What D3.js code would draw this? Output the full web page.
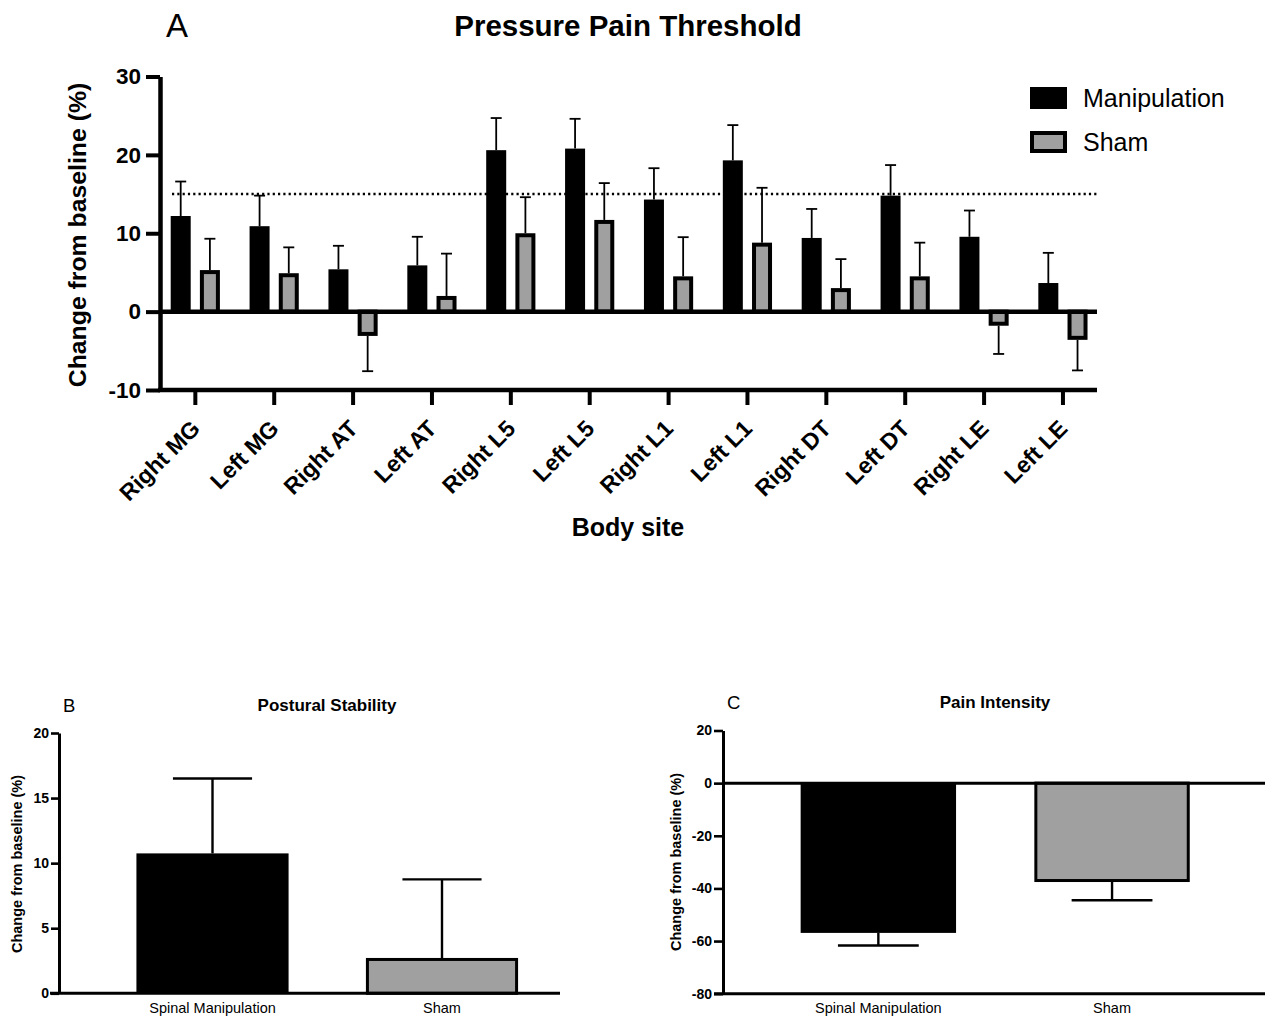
<!DOCTYPE html>
<html>
<head>
<meta charset="utf-8">
<script src="https://cdn.jsdelivr.net/npm/d3@7"></script>
<style>
body{margin:0;background:#fff}
svg{display:block;font-family:"Liberation Sans",Arial,sans-serif}
</style>
</head>
<body>
<div id="chart"></div>
<script>
// panel A - pressure pain threshold
var sites = ['Right MG','Left MG','Right AT','Left AT','Right L5','Left L5','Right L1','Left L1','Right DT','Left DT','Right LE','Left LE']
var groups = ['Manipulation','Sham']
var manipMean = [12.2, 10.9, 5.4, 5.9, 20.6, 20.8, 14.3, 19.3, 9.4, 14.8, 9.55, 3.65]
var manipErr  = [4.4, 3.9, 3.0, 3.65, 4.1, 3.8, 4.0, 4.5, 3.7, 3.9, 3.35, 3.85]
var shamMean  = [5.3, 4.9, -3.1, 2.0, 10.0, 11.7, 4.5, 8.8, 3.0, 4.5, -1.8, -3.6]
var shamErr   = [4.0, 3.3, 4.5, 5.4, 4.6, 4.7, 5.0, 7.0, 3.7, 4.3, 3.6, 3.9]
var thresholdValue = 15
var yTicksA = [-10,0,10,20,30]

// panels B and C
var arms = ['Spinal Manipulation','Sham']
var postMean = [10.75, 2.6]
var postErr  = [5.75, 6.15]
var yTicksB = [0,5,10,15,20]
var painMean = [-56.9, -37.0]
var painErr  = [4.8, 7.5]
var yTicksC = [-80,-60,-40,-20,0,20]

var fills = {'Manipulation':'#000','Sham':'#a0a0a0','Spinal Manipulation':'#000'}
var plainNum = function(d){ return String(d) }   // hyphen minus like the original

var svg = d3.select('#chart').append('svg')
    .attr('width',1265)
    .attr('height',1016)

/* ---------------- A ---------------- */
var xA = d3.scaleBand().domain(sites).range([155.9,1102.4])
var xSubA = d3.scaleBand().domain(groups).range([14.8,64]).paddingInner(0.315)
var yA = d3.scaleLinear().domain([-10,30]).range([390,76.5])

var rowsA = []
sites.forEach(function(s,i){
    rowsA.push({site:s,group:'Manipulation',v:manipMean[i],e:manipErr[i]})
    rowsA.push({site:s,group:'Sham',v:shamMean[i],e:shamErr[i]})
})

var gA = svg.append('g')

gA.append('line')
    .attr('x1',172).attr('x2',1097)
    .attr('y1',yA(thresholdValue)).attr('y2',yA(thresholdValue))
    .attr('stroke','#000')
    .attr('stroke-width',2.6)
    .attr('stroke-dasharray','2.2,3.1')

var bw = xSubA.bandwidth()
gA.selectAll('rect.barA').data(rowsA).enter().append('rect')
    .attr('class','barA')
    .attr('x',function(d){ var x = xA(d.site)+xSubA(d.group); return d.group=='Sham' ? x+2 : x })
    .attr('width',function(d){ return d.group=='Sham' ? bw-4 : bw })
    .attr('y',function(d){ var y = yA(Math.max(d.v,0)); return d.group=='Sham' && d.v>0 ? y+2 : y })
    .attr('height',function(d){ var h = Math.abs(yA(d.v)-yA(0)); return d.group=='Sham' ? Math.max(h-2,0) : h })
    .attr('fill',function(d){ return fills[d.group] })
    .attr('stroke','#000')
    .attr('stroke-width',function(d){ return d.group=='Sham' ? 4 : 0 })

var errA = gA.selectAll('g.errA').data(rowsA).enter().append('g').attr('class','errA')
errA.append('line')
    .attr('x1',function(d){ return xA(d.site)+xSubA(d.group)+bw/2 })
    .attr('x2',function(d){ return xA(d.site)+xSubA(d.group)+bw/2 })
    .attr('y1',function(d){ return yA(d.v) })
    .attr('y2',function(d){ return yA(d.v+(d.v<0?-d.e:d.e)) })
    .attr('stroke','#000').attr('stroke-width',1.8)
errA.append('line')
    .attr('x1',function(d){ return xA(d.site)+xSubA(d.group)+bw/2-5.5 })
    .attr('x2',function(d){ return xA(d.site)+xSubA(d.group)+bw/2+5.5 })
    .attr('y1',function(d){ return yA(d.v+(d.v<0?-d.e:d.e)) })
    .attr('y2',function(d){ return yA(d.v+(d.v<0?-d.e:d.e)) })
    .attr('stroke','#000').attr('stroke-width',1.8)

// zero line
gA.append('line')
    .attr('x1',160).attr('x2',1097)
    .attr('y1',yA(0)).attr('y2',yA(0))
    .attr('stroke','#000').attr('stroke-width',4.5)

// x axis
var xAxisA = gA.append('g')
    .attr('transform','translate(0,'+yA(-10)+')')
    .call(d3.axisBottom(xA).tickSize(15).tickSizeOuter(0))
xAxisA.select('.domain').remove()
xAxisA.selectAll('.tick line').attr('stroke-width',4)
xAxisA.selectAll('.tick text')
    .attr('x',0).attr('y',0).attr('dy',0)
    .attr('transform','translate(6,40) rotate(-45)')
    .attr('text-anchor','end')
    .attr('font-family','"Liberation Sans",Arial,sans-serif')
    .attr('font-size',23)
    .attr('font-weight','bold')
    .attr('fill','#000')
gA.append('line')
    .attr('x1',158).attr('x2',1097)
    .attr('y1',yA(-10)).attr('y2',yA(-10))
    .attr('stroke','#000').attr('stroke-width',4.5)

// y axis
var yAxisA = gA.append('g')
    .attr('transform','translate(160,0)')
    .call(d3.axisLeft(yA).tickValues(yTicksA).tickFormat(plainNum).tickSize(14).tickPadding(5).tickSizeOuter(0))
yAxisA.select('.domain').attr('stroke-width',4.5)
yAxisA.selectAll('.tick line').attr('stroke-width',4)
yAxisA.selectAll('.tick text')
    .attr('font-family','"Liberation Sans",Arial,sans-serif')
    .attr('font-size',22.5)
    .attr('font-weight','bold')
    .attr('fill','#000')

gA.append('text')
    .attr('transform','translate(86,235) rotate(-90)')
    .attr('text-anchor','middle')
    .attr('font-size',24.8).attr('font-weight','bold')
    .text('Change from baseline (%)')

gA.append('text')
    .attr('x',628).attr('y',36)
    .attr('text-anchor','middle')
    .attr('font-size',29.5).attr('font-weight','bold')
    .text('Pressure Pain Threshold')

gA.append('text')
    .attr('x',166).attr('y',37)
    .attr('font-size',33)
    .text('A')

gA.append('text')
    .attr('x',628).attr('y',536)
    .attr('text-anchor','middle')
    .attr('font-size',25).attr('font-weight','bold')
    .text('Body site')

// legend
var legend = gA.selectAll('g.leg').data(groups).enter().append('g')
    .attr('class','leg')
    .attr('transform',function(d,i){ return 'translate(1030,'+(87+i*44)+')' })
legend.append('rect')
    .attr('x',function(d){ return d=='Sham' ? 2 : 0 })
    .attr('y',function(d){ return d=='Sham' ? 2 : 0 })
    .attr('width',function(d){ return d=='Sham' ? 33 : 37 })
    .attr('height',function(d){ return d=='Sham' ? 18 : 22 })
    .attr('fill',function(d){ return fills[d] })
    .attr('stroke','#000')
    .attr('stroke-width',function(d){ return d=='Sham' ? 4 : 0 })
legend.append('text')
    .attr('x',53).attr('y',20)
    .attr('font-size',25)
    .text(function(d){ return d })

/* ---------------- B & C ---------------- */
function smallPanel(opts){
    var g = svg.append('g')
    var x = d3.scaleBand().domain(arms).range(opts.xRange).paddingInner(opts.pad).paddingOuter(opts.pad/2)
    var y = d3.scaleLinear().domain(opts.yDomain).range(opts.yRange)
    var rows = arms.map(function(a,i){ return {arm:a,v:opts.mean[i],e:opts.err[i]} })
    var b = x.bandwidth()

    g.selectAll('rect').data(rows).enter().append('rect')
        .attr('x',function(d){ return d.arm=='Sham' ? x(d.arm)+1.5 : x(d.arm) })
        .attr('width',function(d){ return d.arm=='Sham' ? b-3 : b })
        .attr('y',function(d){ return y(Math.max(d.v,0)) })
        .attr('height',function(d){ return Math.abs(y(d.v)-y(0)) })
        .attr('fill',function(d){ return fills[d.arm] })
        .attr('stroke','#000')
        .attr('stroke-width',function(d){ return d.arm=='Sham' ? 3 : 0 })

    var eb = g.selectAll('g.eb').data(rows).enter().append('g').attr('class','eb')
    eb.append('line')
        .attr('x1',function(d){ return x(d.arm)+b/2 })
        .attr('x2',function(d){ return x(d.arm)+b/2 })
        .attr('y1',function(d){ return y(d.v) })
        .attr('y2',function(d){ return y(d.v+(d.v<0?-d.e:d.e)) })
        .attr('stroke','#000').attr('stroke-width',2.4)
    eb.append('line')
        .attr('x1',function(d){ return x(d.arm)+b/2-b*0.26 })
        .attr('x2',function(d){ return x(d.arm)+b/2+b*0.26 })
        .attr('y1',function(d){ return y(d.v+(d.v<0?-d.e:d.e)) })
        .attr('y2',function(d){ return y(d.v+(d.v<0?-d.e:d.e)) })
        .attr('stroke','#000').attr('stroke-width',2.4)

    // baseline lines
    opts.hLines.forEach(function(h){
        g.append('line')
            .attr('x1',h.from).attr('x2',h.to)
            .attr('y1',y(h.v)).attr('y2',y(h.v))
            .attr('stroke','#000').attr('stroke-width',3)
    })

    var ya = g.append('g')
        .attr('transform','translate('+opts.axisX+',0)')
        .call(d3.axisLeft(y).tickValues(opts.ticks).tickFormat(plainNum).tickSize(opts.tickSize).tickPadding(2).tickSizeOuter(0))
    ya.select('.domain').attr('stroke-width',3)
    ya.selectAll('.tick line').attr('stroke-width',2.6)
    ya.selectAll('.tick text')
        .attr('font-family','"Liberation Sans",Arial,sans-serif')
        .attr('font-size',14).attr('font-weight','bold').attr('fill','#000')

    g.selectAll('text.cat').data(rows).enter().append('text')
        .attr('class','cat')
        .attr('x',function(d){ return x(d.arm)+b/2 })
        .attr('y',1013)
        .attr('text-anchor','middle')
        .attr('font-size',14.5)
        .text(function(d){ return d.arm })

    g.append('text')
        .attr('transform','translate('+opts.ytX+','+opts.ytY+') rotate(-90)')
        .attr('text-anchor','middle')
        .attr('font-size',14.5).attr('font-weight','bold')
        .text('Change from baseline (%)')

    g.append('text')
        .attr('x',opts.titleX).attr('y',opts.titleY)
        .attr('text-anchor','middle')
        .attr('font-size',17).attr('font-weight','bold')
        .text(opts.title)

    g.append('text')
        .attr('x',opts.letterX).attr('y',opts.titleY+1)
        .attr('font-size',18.5)
        .text(opts.letter)
}

smallPanel({
    xRange:[97.75,556.75], pad:0.337,
    yDomain:[0,20], yRange:[993.3,733],
    mean:postMean, err:postErr, ticks:yTicksB,
    axisX:59, tickSize:8,
    hLines:[{v:0,from:50,to:560}],
    ytX:22, ytY:864,
    title:'Postural Stability', titleX:327, titleY:711,
    letter:'B', letterX:63
})

smallPanel({
    xRange:[761.5,1228.9], pad:0.335,
    yDomain:[-80,20], yRange:[993.7,730.5],
    mean:painMean, err:painErr, ticks:yTicksC,
    axisX:723, tickSize:9,
    hLines:[{v:0,from:723,to:1265},{v:-80,from:714,to:1265}],
    ytX:681, ytY:862,
    title:'Pain Intensity', titleX:995, titleY:708,
    letter:'C', letterX:727
})
</script>
</body>
</html>
